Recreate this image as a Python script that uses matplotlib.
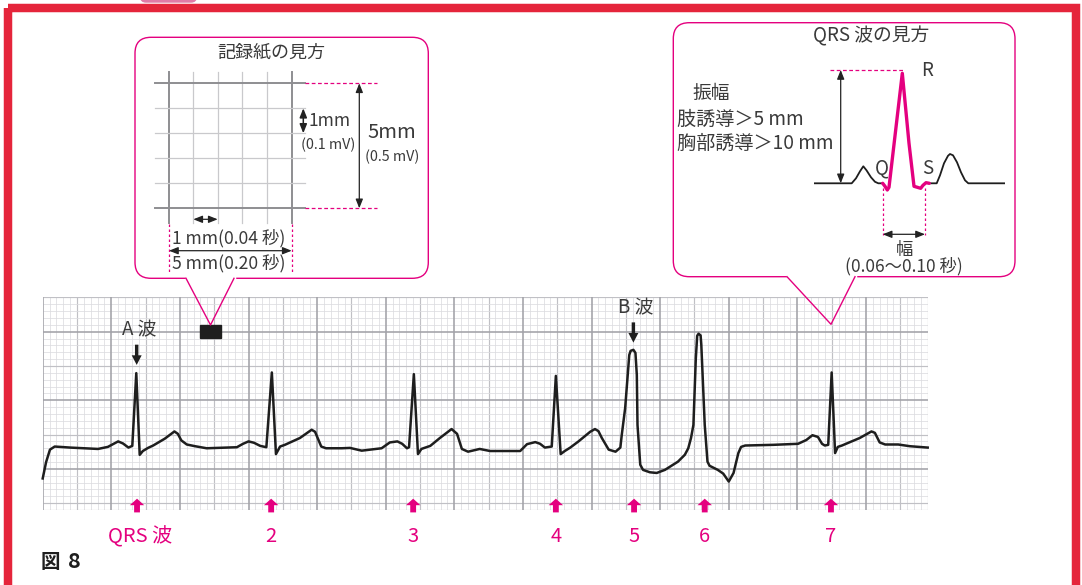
import matplotlib
matplotlib.use('Agg')
import matplotlib.pyplot as plt
from matplotlib.patches import FancyBboxPatch, Rectangle, FancyArrow

plt.rcParams['font.family'] = ['Noto Sans CJK JP', 'DejaVu Sans']

W, H = 1082, 585

# ---------------- data ----------------
# ECG trace: time (mm of paper) and amplitude (mm of paper, 0 = a bold grid line)
ecg_t = [0.0, 0.5, 1.06, 1.75, 4.0, 8.06, 9.5, 10.25, 11.0, 11.7, 12.5, 13.06, 13.64, 14.14, 14.6, 15.35,
         16.1, 17.8, 19.2, 19.7, 20.2, 21.0, 22.2, 23.9, 28.3, 29.2, 30.0, 30.8, 31.7, 32.6, 33.4, 34.0,
         34.6, 35.3, 37.5, 39.2, 39.7, 40.6, 41.3, 43.6, 44.8, 46.5, 49.4, 50.6, 51.7, 52.4, 53.1, 53.4,
         54.1, 54.7, 55.2, 56.5, 57.9, 59.6, 60.4, 61.1, 62.0, 63.7, 65.2, 69.6, 70.6, 71.8, 72.5, 73.2,
         74.2, 74.8, 75.5, 76.1, 76.9, 78.1, 79.8, 80.5, 81.0, 81.5, 82.5, 83.5, 84.2, 84.4, 84.9, 85.5,
         85.7, 86.1, 86.4, 86.6, 86.7, 87.1, 87.5, 88.5, 89.5, 90.7, 92.6, 93.6, 94.1, 94.5, 94.85, 95.2,
         95.4, 95.6, 95.9, 96.0, 96.5, 96.9, 97.2, 98.4, 99.2, 100.0, 100.7, 101.4, 101.8, 102.4, 106.5, 110.1,
         111.3, 112.2, 113.0, 113.6, 114.0, 114.5, 115.0, 115.5, 115.9, 116.5, 119.1, 120.8, 121.3, 122.0, 122.8, 124.7,
         126.4, 129.0]
ecg_v = [-1.4, 1.0, 2.8, 3.25, 3.1, 2.9, 3.2, 3.6, 4.0, 3.7, 3.1, 3.35, 13.95, 2.04, 2.6, 3.05,
         3.4, 4.4, 5.45, 5.1, 4.15, 3.55, 3.3, 3.0, 3.15, 3.65, 4.0, 3.8, 3.35, 3.15, 14.05, 2.15,
         3.25, 3.5, 4.5, 5.7, 5.4, 3.25, 3.0, 3.0, 3.05, 2.65, 3.0, 3.85, 4.0, 3.65, 3.0, 3.15,
         13.8, 2.15, 2.9, 3.35, 4.5, 5.8, 5.1, 2.9, 2.5, 2.9, 2.6, 2.6, 3.6, 3.9, 3.65, 3.1,
         3.25, 13.55, 2.15, 2.6, 3.1, 4.0, 5.4, 5.8, 5.5, 4.5, 2.8, 2.5, 3.1, 4.9, 8.85, 16.6,
         17.2, 17.35, 16.9, 13.7, 6.4, 0.6, -0.15, -0.5, -0.6, -0.15, 1.05, 2.05, 3.0, 4.5, 6.4, 16.1,
         19.4, 19.7, 19.45, 18.1, 6.4, 1.05, 0.45, -0.15, -0.7, -1.85, -0.6, 2.3, 3.2, 3.4, 3.5, 3.65,
         4.2, 4.9, 4.65, 3.65, 3.4, 3.5, 14.05, 2.3, 3.2, 3.4, 4.5, 5.45, 5.25, 3.85, 3.55, 3.55,
         3.3, 3.1]

qrs_mark_t = [13.75, 33.3, 54.0, 74.8, 86.2, 96.5, 114.9]
qrs_labels = ['QRS 波', '2', '3', '4', '5', '6', '7']

wave_labels = ['A 波', 'B 波']
wave_label_t = [13.7, 86.1]
wave_label_top = [18.1, 21.35]

# schematic QRS in the right callout (arbitrary units)
sch_pre_t = [0, 37.7, 42, 46, 49.3, 52.5, 57, 61, 64.3, 68.7]
sch_pre_v = [0, 0, 5, 12, 17, 13, 6, 1.5, 0, 0]
sch_qrs_t = [68.7, 71, 73.3, 75, 88.3, 95, 100, 106.7, 109, 112, 115.3]
sch_qrs_v = [0, -3, -6.7, -4, 110, 40, -3, -5, -2, 0.6, 0]
sch_post_t = [115.3, 122.7, 126, 130, 134, 136, 139, 143, 147, 151, 154.3, 191]
sch_post_v = [0, 0, 8, 20, 27.5, 29.3, 28, 21, 11, 3, 0, 0]

# ---------------- styles ----------------
RED = '#e5253b'
MAG = '#e4007f'
TXT = '#3a3a3a'
C_MINOR = '#dcdce0'
C_MED = '#c0c0c5'
C_MAJOR = '#a2a2a8'

fig = plt.figure(figsize=(W / 100, H / 100), dpi=100)
fig.patch.set_facecolor('white')

# ---------------- ECG strip ----------------
gx0, gx1, gy0, gy1 = 42.7, 927.7, 297.0, 510.0
axe = fig.add_axes([gx0 / W, (H - gy1) / H, (gx1 - gx0) / W, (gy1 - gy0) / H])
axe.set_zorder(1)
axe.set_xlim(0, 129)
axe.set_ylim(-6, 25.05)
axe.axis('off')

for i in range(0, 130):
    if i % 10 == 0:
        c, lw = C_MAJOR, 1.15
    elif i % 5 == 0:
        c, lw = C_MED, 0.85
    else:
        c, lw = C_MINOR, 0.55
    axe.plot([i, i], [-6, 25.05], color=c, lw=lw, zorder=1 if lw < 1 else 2, solid_capstyle='butt')
axe.plot([129, 129], [-6, 25.05], color=C_MED, lw=0.85, zorder=2)
for j in range(-6, 26):
    if j % 10 == 0:
        c, lw = C_MAJOR, 1.15
    elif j % 5 == 0:
        c, lw = C_MED, 0.85
    else:
        c, lw = C_MINOR, 0.55
    if j == -6:
        c, lw = C_MED, 0.85
    y = min(j, 25.05)
    axe.plot([0, 129], [y, y], color=c, lw=lw, zorder=1 if lw < 1 else 2, solid_capstyle='butt')

axe.plot(ecg_t, ecg_v, color='#1e1e1e', lw=1.8, solid_joinstyle='round', zorder=5, clip_on=False)

# pink QRS arrows + labels
for t, lab in zip(qrs_mark_t, qrs_labels):
    axe.add_patch(FancyArrow(t, -6.35, 0, 2.0, width=0.85, head_width=2.1, head_length=0.95,
                             length_includes_head=True, color=MAG, ec='none', zorder=6, clip_on=False))
    axe.text(t + (0.5 if lab == 'QRS 波' else 0.0), -9.9, lab, color=MAG, fontsize=14.5,
             ha='center', va='center', clip_on=False)

# black A/B arrows
for t, top, lab in zip(wave_label_t, wave_label_top, wave_labels):
    axe.add_patch(FancyArrow(t, top, 0, -2.95, width=0.5, head_width=1.45, head_length=1.4,
                             length_includes_head=True, color='#1e1e1e', ec='none', zorder=6))
    axe.text(t + 0.3, top + 2.15, lab, color=TXT, fontsize=13.5, ha='center', va='center')

# little black block (section magnified in the left callout)
axe.add_patch(Rectangle((22.9, 19.1), 3.1, 1.9, color='#1e1e1e', zorder=6))

# ---------------- overlay (frame, callouts) ----------------
ax = fig.add_axes([0, 0, 1, 1])
ax.set_zorder(3)
ax.patch.set_alpha(0)
ax.set_xlim(0, W)
ax.set_ylim(H, 0)
ax.axis('off')

# top tab + red frame
ax.add_patch(FancyBboxPatch((140, -12), 57, 14.7, boxstyle='round,pad=0,rounding_size=6',
                            fc='#e07aa6', ec='none', zorder=1))
ax.add_patch(Rectangle((7.5, 8.3), 1068, 578, fill=False, ec=RED, lw=6.1, zorder=2))

def callout(x0, y0, x1, y1, gap0, gap1, tip):
    ax.add_patch(FancyBboxPatch((x0, y0), x1 - x0, y1 - y0, boxstyle='round,pad=0,rounding_size=16',
                                fc='white', ec=MAG, lw=1.0, zorder=3))
    ax.plot([gap0 + 0.5, gap1 - 0.5], [y1, y1], color='white', lw=2.5, zorder=4)
    ax.plot([gap0, tip[0], gap1], [y1, tip[1], y1], color=MAG, lw=1.0, zorder=5)

def darrow(p1, p2, color='#222222', lw=0.9, hl=0.45, hw=0.18):
    ax.annotate('', xy=p2, xytext=p1,
                arrowprops=dict(arrowstyle=f'<|-|>,head_length={hl},head_width={hw}', color=color,
                                lw=lw, shrinkA=0, shrinkB=0, mutation_scale=12), zorder=7)

# --- left callout: how to read the paper ---
callout(135, 37.3, 428.3, 278.3, 186, 234, (210.5, 325))
ax.text(271, 52, '記録紙の見方', fontsize=13, color=TXT, ha='center', va='center', zorder=8)
vx = [169, 193.3, 217.7, 242.3, 266.7, 291.7]
hy = [83.3, 108.3, 133.3, 158.3, 183.3, 208.3]
for k, x in enumerate(vx):
    outer = k in (0, len(vx) - 1)
    ax.plot([x, x], [71.7, 223.3], color='#8e8e92' if outer else '#c9c9cc', lw=1.4 if outer else 0.9, zorder=6)
for k, y in enumerate(hy):
    outer = k in (0, len(hy) - 1)
    ax.plot([155, 305], [y, y], color='#8e8e92' if outer else '#c9c9cc', lw=1.4 if outer else 0.9, zorder=6)
for y in (hy[0], hy[-1]):
    ax.plot([305, 377], [y, y], color=MAG, lw=0.9, ls=(0, (3, 2)), zorder=6)
for x in (vx[0], vx[-1]):
    ax.plot([x, x], [224, 273.5], color=MAG, lw=0.9, ls=(0, (2, 2)), zorder=6)
darrow((359.3, hy[0]), (359.3, hy[-1]))
darrow((303.3, hy[1]), (303.3, hy[2]), lw=1.1)
darrow((vx[1], 219.3), (vx[2], 219.3))
darrow((vx[0], 250.7), (vx[-1], 250.7))
ax.text(308, 121.5, '1mm', fontsize=12.5, color=TXT, ha='left', va='center', zorder=8)
ax.text(301, 145, '(0.1 mV)', fontsize=10.3, color=TXT, ha='left', va='center', zorder=8)
ax.text(392, 133, '5mm', fontsize=14.5, color=TXT, ha='center', va='center', zorder=8)
ax.text(392, 157, '(0.5 mV)', fontsize=10.3, color=TXT, ha='center', va='center', zorder=8)
ax.text(172, 238, '1 mm(0.04 秒)', fontsize=12.6, color=TXT, ha='left', va='center', zorder=8)
ax.text(172, 263, '5 mm(0.20 秒)', fontsize=12.6, color=TXT, ha='left', va='center', zorder=8)

# --- right callout: how to read the QRS ---
callout(673.3, 22.7, 1015, 276.7, 787, 855, (831, 324.3))
ax.text(871, 36, 'QRS 波の見方', fontsize=13.5, color=TXT, ha='center', va='center', zorder=8)

axs = fig.add_axes([814 / W, (H - 195) / H, 191 / W, 135 / H])
axs.set_zorder(4)
axs.patch.set_alpha(0)
axs.set_xlim(0, 191)
axs.set_ylim(-11.7, 123.3)
axs.axis('off')
axs.plot(sch_pre_t, sch_pre_v, color='#1e1e1e', lw=1.3, solid_joinstyle='round')
axs.plot(sch_post_t, sch_post_v, color='#1e1e1e', lw=1.3, solid_joinstyle='round')
axs.plot(sch_qrs_t, sch_qrs_v, color=MAG, lw=2.4, solid_joinstyle='round', solid_capstyle='round')

ax.plot([830, 905], [70, 70], color=MAG, lw=0.9, ls=(0, (3, 2)), zorder=6)
darrow((840.7, 70), (840.7, 183.3))
ax.text(927, 70, 'R', fontsize=13.5, color=TXT, ha='center', va='center', zorder=8)
ax.text(882, 168, 'Q', fontsize=13.5, color=TXT, ha='center', va='center', zorder=8)
ax.text(927.5, 168, 'S', fontsize=13.5, color=TXT, ha='center', va='center', zorder=8)
for x in (882.7, 925):
    ax.plot([x, x], [188, 235], color=MAG, lw=0.9, ls=(0, (2, 2)), zorder=6)
darrow((882.7, 234.3), (925, 234.3))
ax.text(905, 250, '幅', fontsize=12.5, color=TXT, ha='center', va='center', zorder=8)
ax.text(904, 266.5, '(0.06〜0.10 秒)', fontsize=12.5, color=TXT, ha='center', va='center', zorder=8)
ax.text(692, 94, '振幅', fontsize=13.5, color=TXT, ha='left', va='center', zorder=8)
ax.text(677, 119, '肢誘導＞5 mm', fontsize=13.8, color=TXT, ha='left', va='center', zorder=8)
ax.text(677, 143, '胸部誘導＞10 mm', fontsize=13.8, color=TXT, ha='left', va='center', zorder=8)

# figure number
ax.text(41, 562, '図', fontsize=14, fontweight='bold', color='#1e1e1e', ha='left', va='center', zorder=8)
ax.text(68, 562, '8', fontsize=15.5, fontweight='bold', color='#1e1e1e', ha='left', va='center', zorder=8)

fig.savefig('out.png', dpi=100, facecolor='white')
